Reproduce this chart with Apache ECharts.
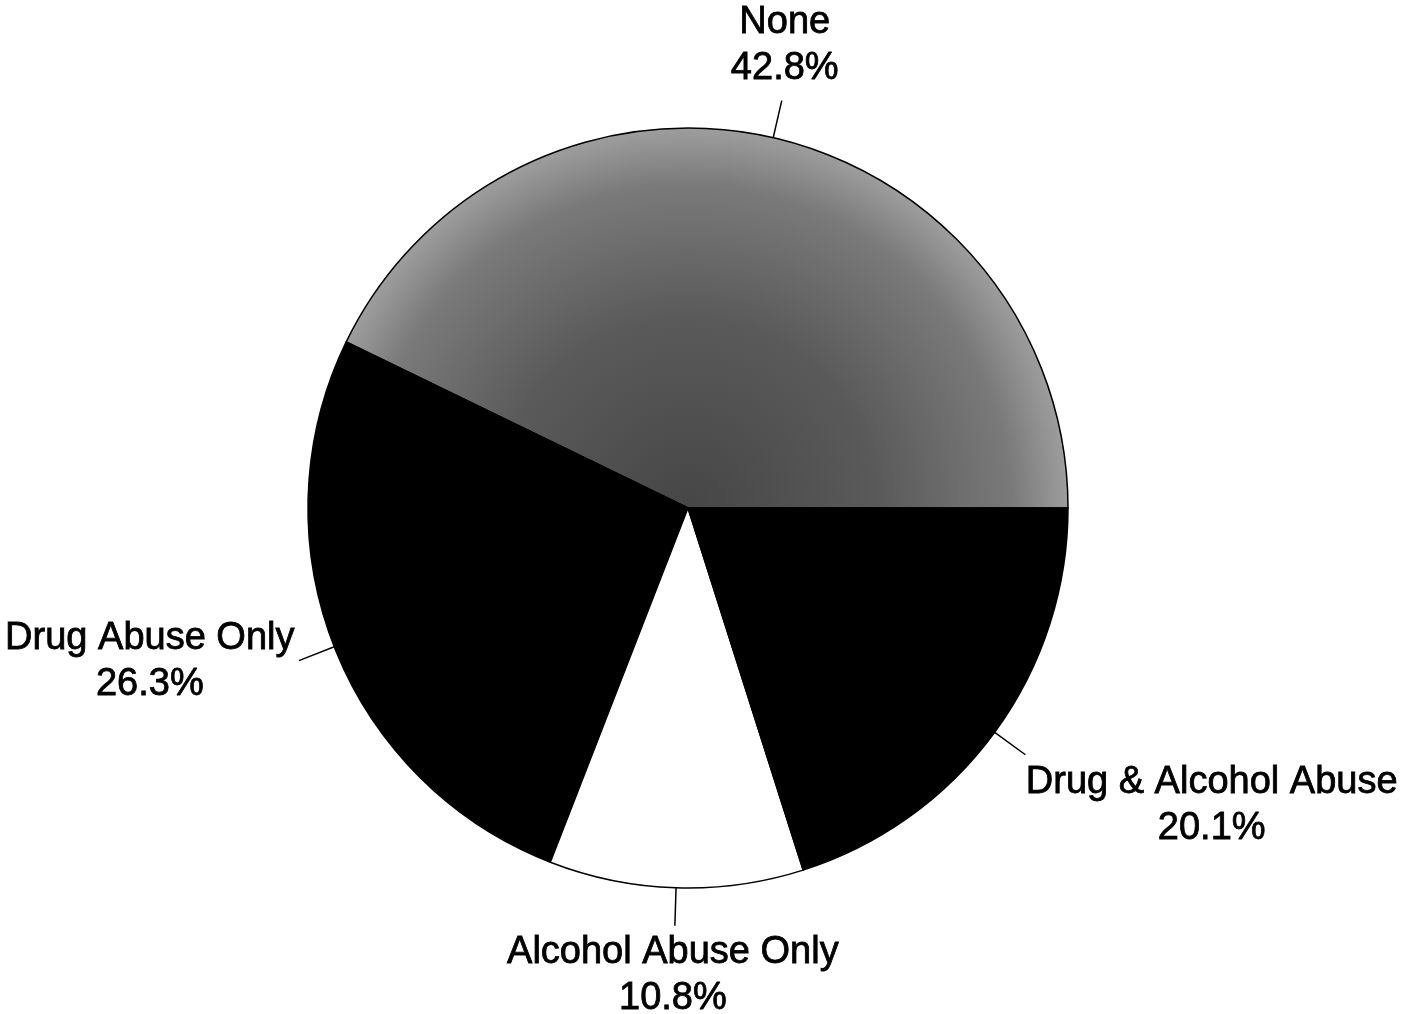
<!DOCTYPE html>
<html>
<head>
<meta charset="utf-8">
<script src="https://cdn.jsdelivr.net/npm/echarts@6/dist/echarts.min.js"></script>
<style>
html,body{margin:0;padding:0;background:#fff;}
#chart{width:1406px;height:1014px;}
</style>
</head>
<body>
<div id="chart"></div>
<script>
// ---- data ----
const categories = ['None', 'Drug Abuse Only', 'Alcohol Abuse Only', 'Drug & Alcohol Abuse'];
const percentages = [42.8, 26.3, 10.8, 20.1];

// ---- styles ----
const grayFill = {
  type: 'radial', x: 0.474, y: 1, r: 1,
  colorStops: [
    { offset: 0, color: '#464646' },
    { offset: 0.5, color: '#5a5a5a' },
    { offset: 0.85, color: '#7a7a7a' },
    { offset: 1, color: '#9e9e9e' }
  ]
};
const sliceColors = [grayFill, '#000000', '#ffffff', '#000000'];
const labelSides = ['above', 'left', 'below', 'right'];

const chart = echarts.init(document.getElementById('chart'), null, { renderer: 'canvas' });

const seriesData = categories.map((name, i) => ({
  name: name,
  value: percentages[i],
  itemStyle: { color: sliceColors[i] }
}));

chart.setOption({
  backgroundColor: '#ffffff',
  animation: false,
  series: [{
    type: 'pie',
    center: [688, 508],
    radius: 380,
    startAngle: 0,
    clockwise: false,
    avoidLabelOverlap: false,
    itemStyle: { borderColor: '#000', borderWidth: 1.5 },
    label: {
      show: true,
      position: 'outside',
      formatter: '{b}\n{c}%',
      fontFamily: 'Liberation Sans, Arial, sans-serif',
      fontSize: 38,
      lineHeight: 46,
      color: '#000',
      textBorderColor: '#000',
      textBorderWidth: 0.8,
      overflow: 'none'
    },
    labelLine: {
      show: true,
      length: 38,
      length2: 0,
      smooth: false,
      lineStyle: { color: '#000', width: 1.5 }
    },
    labelLayout: function (p) {
      const pts = p.labelLinePoints;
      const end = pts[pts.length - 1];
      const w = p.labelRect.width;
      const side = labelSides[p.dataIndex];
      let x = end[0], y = end[1], v = 'middle';
      if (side === 'above') { x += 3; y -= 9; v = 'bottom'; }
      else if (side === 'below') { x -= 2; y += 4; v = 'top'; }
      else if (side === 'left') { x -= 4 + w / 2; y += 1; v = 'middle'; }
      else { x += 0 + w / 2; y += 5; v = 'top'; }
      return { x: x, y: y, align: 'center', verticalAlign: v, labelLinePoints: pts };
    },
    emphasis: { disabled: true },
    data: seriesData
  }]
});
</script>
</body>
</html>
